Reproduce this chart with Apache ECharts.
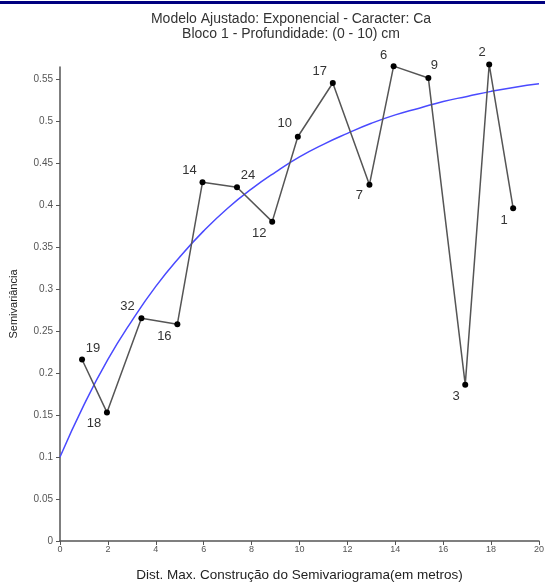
<!DOCTYPE html>
<html>
<head>
<meta charset="utf-8">
<script src="https://cdn.jsdelivr.net/npm/echarts@6/dist/echarts.min.js"></script>
<style>
    html, body { margin: 0; padding: 0; background: #fff; }
    #chart { width: 545px; height: 583px; }
</style>
</head>
<body>
<div id="chart"></div>
<script>
// pontos do semivariograma experimental (distancia, semivariancia)
var lagDist = [0.92, 1.96, 3.4, 4.9, 5.95, 7.39, 8.86, 9.93, 11.39, 12.92, 13.93, 15.38, 16.92, 17.92, 18.92];
var semiVar = [0.216, 0.153, 0.265, 0.258, 0.427, 0.421, 0.380, 0.481, 0.545, 0.424, 0.565, 0.551, 0.186, 0.567, 0.396];
var pairCount = ["19", "18", "32", "16", "14", "24", "12", "10", "17", "7", "6", "9", "3", "2", "1"];

var modelDist = [0, 1, 2, 3, 4, 5, 6, 7, 8, 9, 10, 11, 12, 13, 14, 15, 16, 17, 18, 19, 20];
var modelVal = [0.100, 0.162, 0.216, 0.262, 0.303, 0.338, 0.369, 0.396, 0.419, 0.439, 0.457,
                0.472, 0.485, 0.497, 0.507, 0.515, 0.523, 0.529, 0.535, 0.540, 0.544];

var yTicks = [0, 0.05, 0.1, 0.15, 0.2, 0.25, 0.3, 0.35, 0.4, 0.45, 0.5, 0.55];

// deslocamento dos rotulos em relacao ao ponto
var labelOffsets = [[11, -11], [-13, 11], [-14, -12], [-13, 12], [-13, -12], [11, -12], [-13, 12],
                    [-13, -13], [-13, -12], [-10, 11], [-10, -11], [6, -13], [-9, 12], [-7, -12], [-9, 12]];

var FONT = '"Liberation Sans", Arial, sans-serif';

var pointData = [];
lagDist.forEach(function (d, i) {
    pointData.push({
        value: [d, semiVar[i]],
        label: {
            show: true,
            formatter: pairCount[i],
            position: 'inside',
            offset: labelOffsets[i]
        }
    });
});

var modelData = [];
modelDist.forEach(function (d, i) {
    modelData.push([d, modelVal[i]]);
});

var chart = echarts.init(document.getElementById('chart'));
chart.setOption({
    animation: false,
    backgroundColor: '#fff',
    graphic: [{
        type: 'rect',
        shape: { x: 0, y: 1, width: 545, height: 3 },
        style: { fill: '#000080' }
    }],
    title: {
        text: 'Modelo Ajustado: Exponencial - Caracter: Ca\nBloco 1 - Profundidade: (0 - 10) cm',
        left: 286,
        top: 7,
        textAlign: 'center',
        textStyle: { fontFamily: FONT, fontSize: 14, fontWeight: 'normal', color: '#333', lineHeight: 15 }
    },
    grid: { left: 60, right: 6, top: 67, bottom: 42, containLabel: false, outerBoundsMode: 'none' },
    xAxis: {
        type: 'value',
        min: 0,
        max: 20,
        interval: 2,
        name: 'Dist. Max. Construção do Semivariograma(em metros)',
        nameLocation: 'middle',
        nameGap: 27,
        nameTextStyle: { fontFamily: FONT, fontSize: 13.5, color: '#222' },
        axisLine: { lineStyle: { color: '#555', width: 1.5 } },
        axisTick: { length: 4, lineStyle: { color: '#555' } },
        axisLabel: { fontFamily: FONT, fontSize: 9, color: '#555', margin: 4 },
        splitLine: { show: false }
    },
    yAxis: {
        type: 'value',
        min: 0,
        max: 0.564,
        name: 'Semivariância',
        nameLocation: 'middle',
        nameGap: 41,
        nameTextStyle: { fontFamily: FONT, fontSize: 11, color: '#222' },
        axisLine: { show: true, lineStyle: { color: '#555', width: 1.5 } },
        axisTick: { show: true, length: 4, customValues: yTicks, lineStyle: { color: '#555' } },
        axisLabel: {
            fontFamily: FONT, fontSize: 10, color: '#555', margin: 7,
            customValues: yTicks,
            formatter: function (v) { return String(+v.toFixed(2)); }
        },
        splitLine: { show: false }
    },
    series: [{
        name: 'modelo',
        type: 'line',
        data: modelData,
        smooth: true,
        showSymbol: false,
        lineStyle: { color: '#4a4aff', width: 1.5 },
        z: 2
    }, {
        name: 'experimental',
        type: 'line',
        data: pointData,
        clip: false,
        symbol: 'circle',
        symbolSize: 6,
        itemStyle: { color: '#000' },
        lineStyle: { color: '#555', width: 1.5 },
        label: { fontFamily: FONT, fontSize: 13, color: '#333' },
        z: 3
    }]
});
</script>
</body>
</html>
